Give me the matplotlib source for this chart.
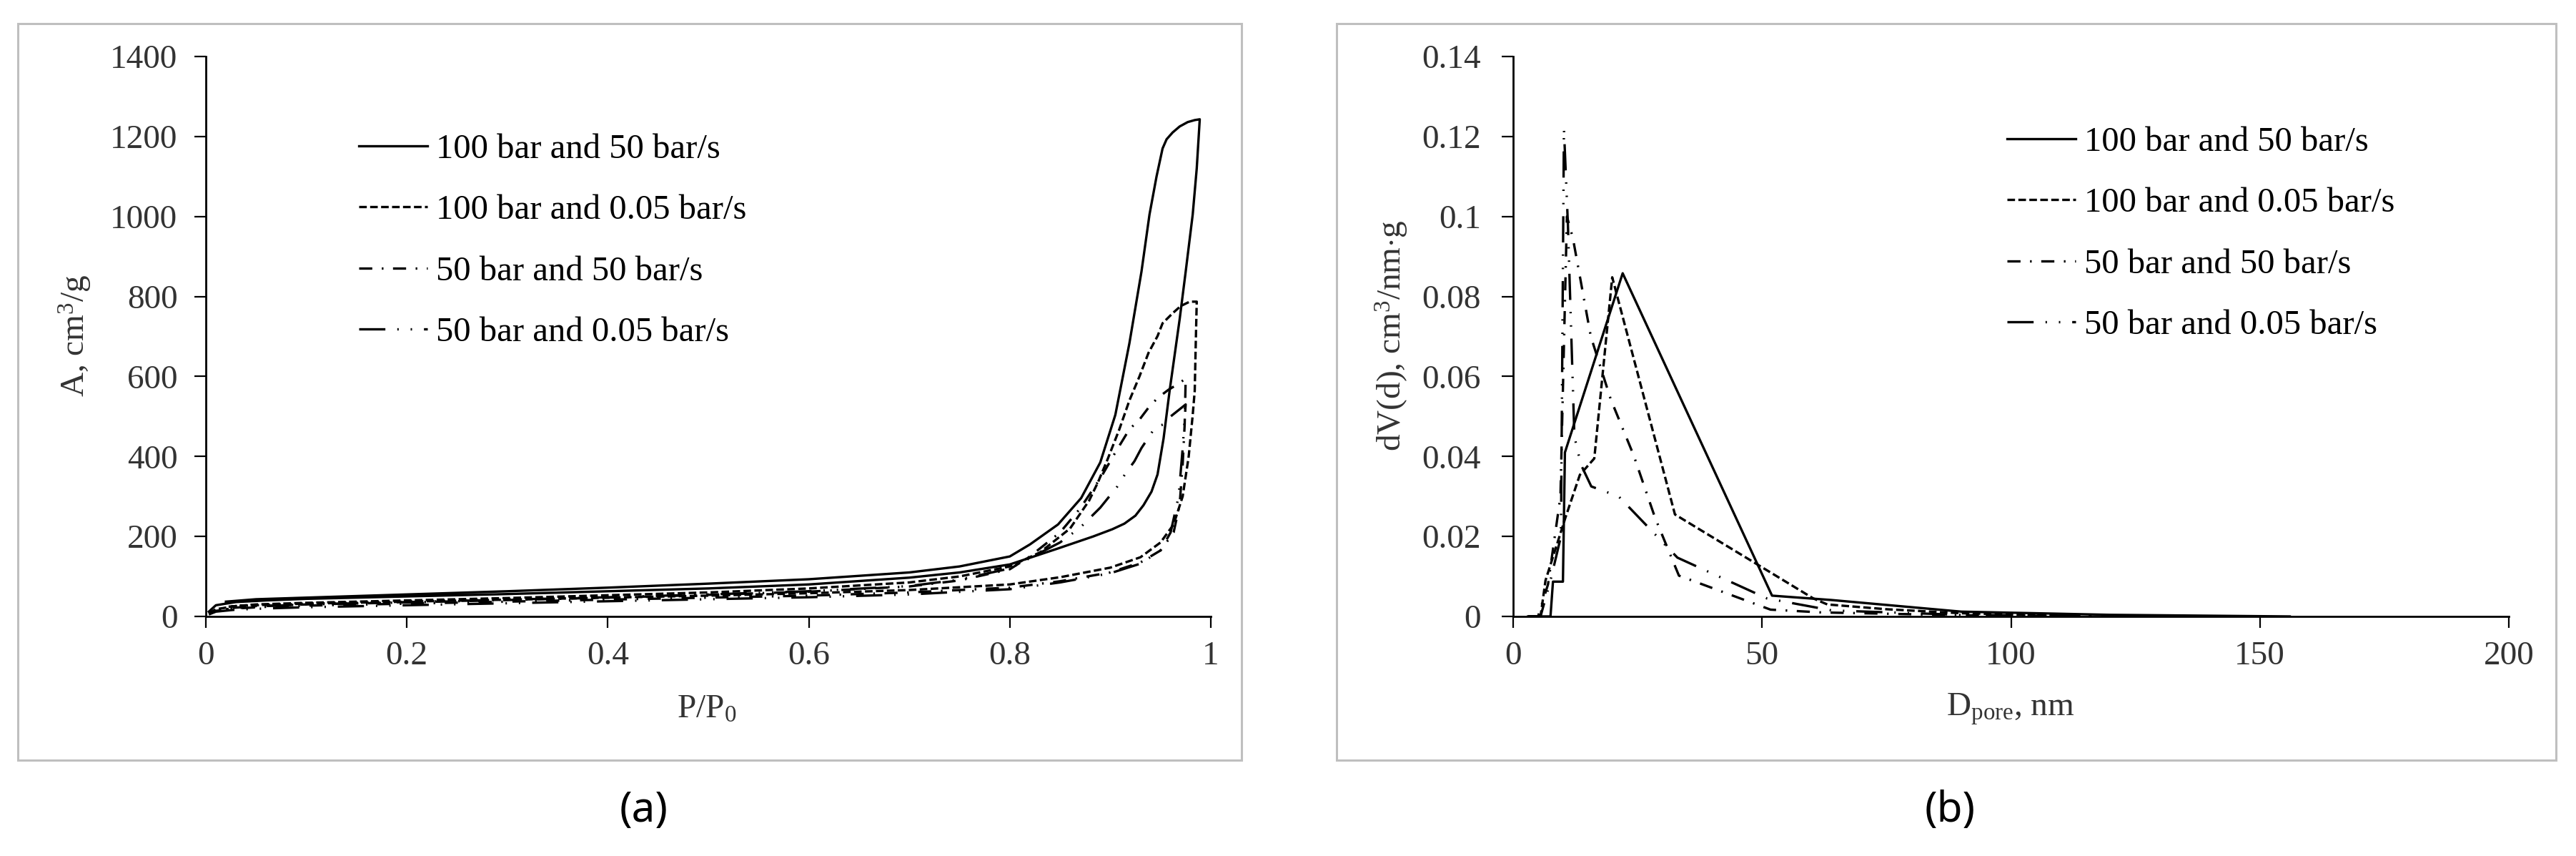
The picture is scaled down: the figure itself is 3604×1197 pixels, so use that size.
import matplotlib
matplotlib.use("Agg")
import matplotlib.pyplot as plt
from matplotlib.patches import Rectangle

plt.rcParams['font.family'] = ['Liberation Serif', 'DejaVu Serif']
plt.rcParams['mathtext.fontset'] = 'custom'
plt.rcParams['mathtext.rm'] = 'Liberation Serif'
plt.rcParams['mathtext.it'] = 'Liberation Serif:italic'

# ---------------- data: (a) adsorption isotherms ----------------
labels = ["100 bar and 50 bar/s", "100 bar and 0.05 bar/s",
          "50 bar and 50 bar/s", "50 bar and 0.05 bar/s"]

s1_ads_x = [0.003, 0.01, 0.03, 0.06, 0.1, 0.2, 0.3, 0.4, 0.5, 0.6, 0.7, 0.75, 0.8, 0.848, 0.883,
            0.902, 0.914, 0.925, 0.933, 0.941, 0.947, 0.953, 0.959, 0.969, 0.975, 0.982, 0.986, 0.989]
s1_ads_y = [12, 28, 36, 40, 44, 50, 56, 63, 70, 80, 97, 110, 130, 170, 200,
            218, 232, 252, 278, 312, 355, 445, 564, 743, 862, 1005, 1120, 1243]
s1_des_x = [0.989, 0.984, 0.977, 0.969, 0.962, 0.956, 0.952, 0.946, 0.939, 0.931, 0.919, 0.905,
            0.890, 0.871, 0.848, 0.82, 0.8, 0.75, 0.7, 0.6, 0.5, 0.4, 0.3, 0.2, 0.1, 0.05, 0.02]
s1_des_y = [1243, 1241, 1236, 1225, 1210, 1193, 1170, 1100, 1005, 862, 683, 504,
            385, 296, 230, 180, 150, 125, 110, 93, 82, 72, 63, 55, 47, 43, 37]

s2_ads_x = [0.003, 0.01, 0.03, 0.06, 0.1, 0.2, 0.3, 0.4, 0.5, 0.6, 0.7, 0.8, 0.85, 0.9, 0.93,
            0.95, 0.963, 0.972, 0.978, 0.982, 0.984, 0.985, 0.986]
s2_ads_y = [8, 18, 26, 29, 32, 37, 42, 47, 52, 58, 66, 80, 98, 122, 148,
            185, 230, 300, 400, 504, 564, 680, 787]
s2_des_x = [0.986, 0.979, 0.970, 0.962, 0.952, 0.947, 0.938, 0.929, 0.919, 0.909, 0.897, 0.888,
            0.879, 0.86, 0.83, 0.8, 0.75, 0.7, 0.6, 0.5, 0.4, 0.3, 0.2, 0.1, 0.05, 0.02]
s2_des_y = [787, 787, 776, 758, 733, 701, 659, 600, 540, 468, 391, 337,
            290, 220, 160, 125, 100, 85, 70, 60, 53, 46, 40, 34, 30, 24]

s3_ads_x = [0.003, 0.01, 0.03, 0.06, 0.1, 0.2, 0.3, 0.4, 0.5, 0.6, 0.7, 0.8, 0.85, 0.9, 0.93,
            0.95, 0.963, 0.969, 0.972, 0.974, 0.975]
s3_ads_y = [6, 14, 20, 24, 27, 32, 37, 42, 47, 52, 60, 72, 88, 110, 135,
            165, 210, 280, 380, 480, 595]
s3_des_x = [0.975, 0.968, 0.958, 0.947, 0.938, 0.929, 0.919, 0.905, 0.89, 0.87, 0.85, 0.82,
            0.8, 0.75, 0.7, 0.6, 0.5, 0.4, 0.3, 0.2, 0.1, 0.05, 0.02]
s3_des_y = [595, 582, 567, 546, 522, 492, 468, 410, 345, 270, 210, 150,
            118, 90, 75, 62, 54, 47, 41, 35, 30, 26, 20]

s4_ads_x = [0.003, 0.01, 0.03, 0.06, 0.1, 0.2, 0.3, 0.4, 0.5, 0.6, 0.7, 0.8, 0.85, 0.9, 0.93,
            0.95, 0.96, 0.968, 0.972, 0.975]
s4_ads_y = [5, 12, 17, 20, 23, 28, 33, 38, 43, 48, 55, 68, 85, 108, 132,
            165, 210, 300, 420, 530]
s4_des_x = [0.975, 0.96, 0.953, 0.945, 0.931, 0.924, 0.915, 0.907, 0.89, 0.87, 0.85, 0.8,
            0.75, 0.7, 0.6, 0.5, 0.4, 0.3, 0.2, 0.1, 0.05, 0.02]
s4_des_y = [530, 500, 480, 474, 421, 388, 357, 325, 272, 222, 185, 120,
            92, 76, 63, 55, 48, 42, 36, 30, 25, 18]

# ---------------- data: (b) pore size distributions ----------------
d1 = [3, 7.5, 8.0, 10.0, 10.4, 22.0, 52.0, 64, 90, 120, 156]
v1 = [0, 0, 0.0087, 0.0087, 0.041, 0.0858, 0.0052, 0.0041, 0.0012, 0.0004, 0.0]
d2 = [3, 5.5, 6.5, 10.5, 13.4, 16.3, 19.9, 32.5, 60.3, 63.1, 75, 90, 110]
v2 = [0, 0, 0.009, 0.0247, 0.0354, 0.0395, 0.0848, 0.0255, 0.0045, 0.003, 0.0018, 0.0008, 0.0002]
d3 = [3, 5, 7, 9.5, 10.8, 12.0, 15.6, 19.6, 24.2, 28.5, 33.3, 51.7, 62, 90, 130]
v3 = [0, 0, 0.008, 0.03, 0.100, 0.0946, 0.070, 0.0543, 0.0403, 0.0247, 0.0102, 0.0017, 0.001, 0.0003, 0.0]
d4 = [3, 5.5, 7.5, 9.6, 10.2, 11.0, 12.3, 13.6, 15.7, 21.2, 33.0, 51.0, 64, 90, 130]
v4 = [0, 0, 0.009, 0.02, 0.122, 0.098, 0.045, 0.038, 0.0325, 0.030, 0.0147, 0.0045, 0.0015, 0.0004, 0.0]

xticks_a = [0, 0.2, 0.4, 0.6, 0.8, 1.0]
xticklabels_a = ["0", "0.2", "0.4", "0.6", "0.8", "1"]
yticks_a = [0, 200, 400, 600, 800, 1000, 1200, 1400]
xticks_b = [0, 50, 100, 150, 200]
yticks_b = [0, 0.02, 0.04, 0.06, 0.08, 0.1, 0.12, 0.14]
yticklabels_b = ["0", "0.02", "0.04", "0.06", "0.08", "0.1", "0.12", "0.14"]

# ---------------- styling ----------------
LW = 2.4
styles = [
    dict(linestyle='-'),
    dict(linestyle=(0, (3.2, 1.4))),
    dict(linestyle=(0, (5.5, 4, 0.7, 4))),
    dict(linestyle=(0, (11, 5, 0.6, 5, 0.6, 5))),
]

W, H = 3604, 1197
fig = plt.figure(figsize=(W / 100, H / 100), dpi=100)

def fx(px):
    return px / W

def fy(py):
    return 1 - py / H

# outer boxes
for (x0, x1) in [(25, 1737), (1870, 3576)]:
    fig.patches.append(Rectangle((fx(x0), fy(1063)), fx(x1) - fx(x0), fy(33) - fy(1063),
                                 transform=fig.transFigure, fill=False,
                                 edgecolor='#BFBFBF', linewidth=2.2, zorder=0))

axA = fig.add_axes([fx(288), fy(862), fx(1694) - fx(288), fy(79) - fy(862)])
axB = fig.add_axes([fx(2117), fy(862), fx(3510) - fx(2117), fy(79) - fy(862)])

TICK_FS = 34
LEG_FS = 35
LAB_FS = 34
TCOL = '#333333'

def style_axes(ax, ypad):
    for s in ['top', 'right']:
        ax.spines[s].set_visible(False)
    for s in ['left', 'bottom']:
        ax.spines[s].set_linewidth(2.0)
        ax.spines[s].set_color('black')
    ax.tick_params(axis='both', direction='out', length=11.5, width=1.6, colors='black',
                   labelcolor=TCOL, labelsize=TICK_FS)
    ax.tick_params(axis='x', pad=13)
    ax.tick_params(axis='y', pad=ypad)
    ax.patch.set_alpha(0)

# (a)
series_a = [
    (s1_ads_x + s1_des_x, s1_ads_y + s1_des_y),
    (s2_ads_x + s2_des_x, s2_ads_y + s2_des_y),
    (s3_ads_x + s3_des_x, s3_ads_y + s3_des_y),
    (s4_ads_x + s4_des_x, s4_ads_y + s4_des_y),
]
for (xs, ys), st, lab in zip(series_a, styles, labels):
    axA.plot(xs, ys, color='black', linewidth=LW, label=lab, **st)
axA.set_xlim(0, 1)
axA.set_ylim(0, 1400)
axA.set_xticks(xticks_a)
axA.set_xticklabels(xticklabels_a)
axA.set_yticks(yticks_a)
style_axes(axA, 17)
axA.set_xlabel(r"P/P$_\mathregular{0}$", fontsize=LAB_FS, color=TCOL, va='center')
axA.xaxis.set_label_coords(0.498, -0.166)
axA.set_ylabel(r"A, cm$^\mathregular{3}$/g", fontsize=LAB_FS, color=TCOL, va='center')
axA.yaxis.set_label_coords(-0.13, 0.502)

# (b)
for d, v, st, lab in zip([d1, d2, d3, d4], [v1, v2, v3, v4], styles, labels):
    axB.plot(d, v, color='black', linewidth=LW, label=lab, **st)
axB.set_xlim(0, 200)
axB.set_ylim(0, 0.14)
axB.set_xticks(xticks_b)
axB.set_yticks(yticks_b)
axB.set_yticklabels(yticklabels_b)
style_axes(axB, 21)
axB.set_xlabel(r"D$_\mathregular{pore}$, nm", fontsize=LAB_FS, color=TCOL, va='center')
axB.xaxis.set_label_coords(0.4996, -0.166)
axB.set_ylabel(r"dV(d), cm$^\mathregular{3}$/nm$\cdot$g", fontsize=LAB_FS, color=TCOL, va='center')
axB.yaxis.set_label_coords(-0.122, 0.502)

leg_kw = dict(loc='center left', frameon=False, fontsize=LEG_FS, borderpad=0, borderaxespad=0,
              handlelength=1.98, handletextpad=0.25, labelspacing=0.85)
legA = axA.legend(bbox_to_anchor=(fx(502), fy(337)), bbox_transform=fig.transFigure, **leg_kw)
legB = axB.legend(bbox_to_anchor=(fx(2808), fy(327)), bbox_transform=fig.transFigure, **leg_kw)
for leg in (legA, legB):
    for t in leg.get_texts():
        t.set_color('black')

fig.text(fx(901), fy(1133), "(a)", ha='center', va='center', fontsize=42,
         family=['Noto Sans', 'DejaVu Sans'], color='black')
fig.text(fx(2728), fy(1133), "(b)", ha='center', va='center', fontsize=42,
         family=['Noto Sans', 'DejaVu Sans'], color='black')

fig.savefig("out.png", dpi=100)
